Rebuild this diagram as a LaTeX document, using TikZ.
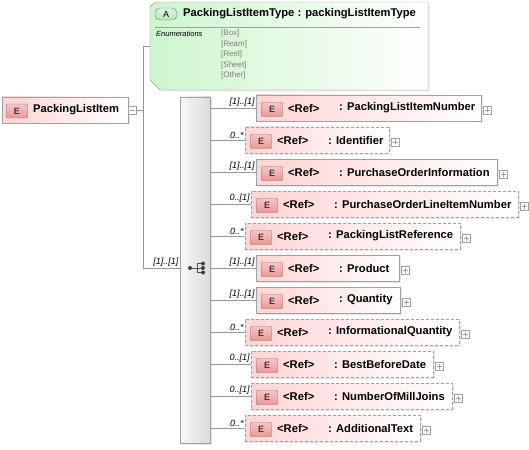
\documentclass[tikz,border=0pt]{standalone}
\usepackage{fontspec}
\setmainfont{Liberation Sans}
\usetikzlibrary{positioning,shadows,calc}
\definecolor{elpink}{RGB}{255,212,212}
\definecolor{elbadge}{RGB}{238,150,150}
\definecolor{tygreen}{RGB}{205,245,205}
\definecolor{tybadge}{RGB}{185,232,185}
\definecolor{edge}{RGB}{160,160,160}
\definecolor{wire}{RGB}{150,150,150}
\definecolor{enumgray}{RGB}{125,125,125}
\tikzset{
  elbox/.style={draw=edge, left color=elpink, right color=white,
    minimum height=26pt, inner sep=0pt, anchor=west,
    drop shadow={shadow xshift=1.5pt,shadow yshift=-1.5pt,fill=black!18}},
  reqbox/.style={elbox},
  optbox/.style={elbox, dash pattern=on 3pt off 2pt},
  ebadge/.style={draw=black!55, rounded corners=1pt, top color=elbadge!55,
    bottom color=elbadge, minimum width=21pt, minimum height=14pt,
    inner sep=0pt, font=\fontsize{9}{9}\selectfont},
  abadge/.style={draw=black!55, rounded corners=5pt, top color=tybadge!50,
    bottom color=tybadge, minimum width=22pt, minimum height=12pt,
    inner sep=0pt, font=\fontsize{9}{9}\selectfont},
  plusbox/.style={draw=edge, fill=white, minimum size=8pt, inner sep=0pt,
    anchor=west, path picture={
      \draw[edge] ([xshift=-2.5pt]path picture bounding box.center)
        -- ([xshift=2.5pt]path picture bounding box.center)
        ([yshift=-2.5pt]path picture bounding box.center)
        -- ([yshift=2.5pt]path picture bounding box.center);}},
  minusbox/.style={draw=edge, fill=white, minimum size=8pt, inner sep=0pt,
    anchor=west, path picture={
      \draw[edge] ([xshift=-2.5pt]path picture bounding box.center)
        -- ([xshift=2.5pt]path picture bounding box.center);}},
  seqbox/.style={draw=edge, left color=gray!6, right color=gray!28,
    inner sep=0pt,
    drop shadow={shadow xshift=1.5pt,shadow yshift=-1.5pt,fill=black!18}},
  conn/.style={draw=wire, line width=0.7pt},
  card/.style={font=\fontsize{9}{9}\selectfont\itshape, inner sep=1pt,
    anchor=south east},
  boldtext/.style={font=\fontsize{11.2}{11.2}\selectfont\bfseries,
    inner sep=0pt, anchor=west},
  enumtext/.style={font=\fontsize{8}{8}\selectfont, text=enumgray,
    inner sep=0pt, anchor=west},
}
\begin{document}
\begin{tikzpicture}[x=1pt,y=-1pt]
\useasboundingbox (0,0) rectangle (529,449);

% simple type with enumerations
\path[draw=edge, left color=tygreen, right color=white,
  drop shadow={shadow xshift=1.5pt,shadow yshift=-1.5pt,fill=black!18}]
  (150,7) -- (155,2) -- (428,2) -- (428,90) -- (160,90) -- (150,80) -- cycle;
\coordinate (tyw) at (150,46);
\node[abadge] (tyA) at (166,14) {A};
\node[boldtext] (tyname) at (183,14) {PackingListItemType : packingListItemType};
\draw[edge] (155,27) -- (420,27);
\node[font=\fontsize{7.5}{7.5}\selectfont\itshape, inner sep=0pt, anchor=west]
  (enumlbl) at (156,34) {Enumerations};
\foreach \v [count=\k] in {Box,Ream,Reel,Sheet,Other}
  \node[enumtext] (ev\k) at (221,{33.5+10.6*(\k-1)}) {[\v]};

% root element
\node[reqbox, minimum width=126pt] (root) at (2,110) {};
\node[ebadge] (rootE) at (17,111) {E};
\node[boldtext] (rootname) at (33,110) {PackingListItem};
\node[minusbox] (rootm) at (root.east) {};

% sequence
\node[seqbox, minimum width=30pt, minimum height=346pt] (seq) at (195,270) {};
\coordinate (seqic) at (197,268);
\draw[black!70, line width=0.7pt] (190,268) -- (197,268)
  (197,263.5) -- (197,272.5) (197,263.5) -- (203,263.5)
  (197,272.5) -- (203,272.5) (197,268) -- (203,268);
\foreach \yy in {263.5,268,272.5}
  \fill[black!75] (203,\yy) circle (2);
\fill[black!75] (190,268) circle (2);

\coordinate (fork) at ([xshift=7pt]rootm.east);
\draw[conn] (rootm.east) -- (fork);
\draw[conn] (tyw) -| (fork |- seqic) -- node[card, pos=1] {[1]..[1]} (seq.west |- seqic);

% child elements
\foreach \i/\y/\x/\w/\st/\m/\t in {
  1/108/256/225/reqbox/{[1]..[1]}/PackingListItemNumber,
  2/140/245/144/optbox/{0..*}/Identifier,
  3/172/256/241/reqbox/{[1]..[1]}/PurchaseOrderInformation,
  4/204/251/267/optbox/{0..[1]}/PurchaseOrderLineItemNumber,
  5/236/245/215/optbox/{0..*}/PackingListReference,
  6/268/256/143/reqbox/{[1]..[1]}/Product,
  7/300/256/144/reqbox/{[1]..[1]}/Quantity,
  8/332/245/214/optbox/{0..*}/InformationalQuantity,
  9/364/251/182/optbox/{0..[1]}/BestBeforeDate,
  10/396/251/201/optbox/{0..[1]}/NumberOfMillJoins,
  11/428/245/175/optbox/{0..*}/AdditionalText}
{
  \node[\st, minimum width=\w pt] (c\i) at (\x,\y) {};
  \node[ebadge] (e\i) at ([xshift=16pt,yshift=-1.5pt]c\i.west) {E};
  \node[boldtext] (r\i) at ([xshift=32pt]c\i.west) {<Ref>};
  \node[boldtext] (n\i) at ([xshift=83pt]c\i.west) {: \t};
  \node[plusbox] (p\i) at ([xshift=2pt,yshift=-2pt]c\i.east) {};
  \draw[conn] (seq.east |- c\i.west) -- node[card, pos=1] {\m} (c\i.west);
}
\end{tikzpicture}
\end{document}
